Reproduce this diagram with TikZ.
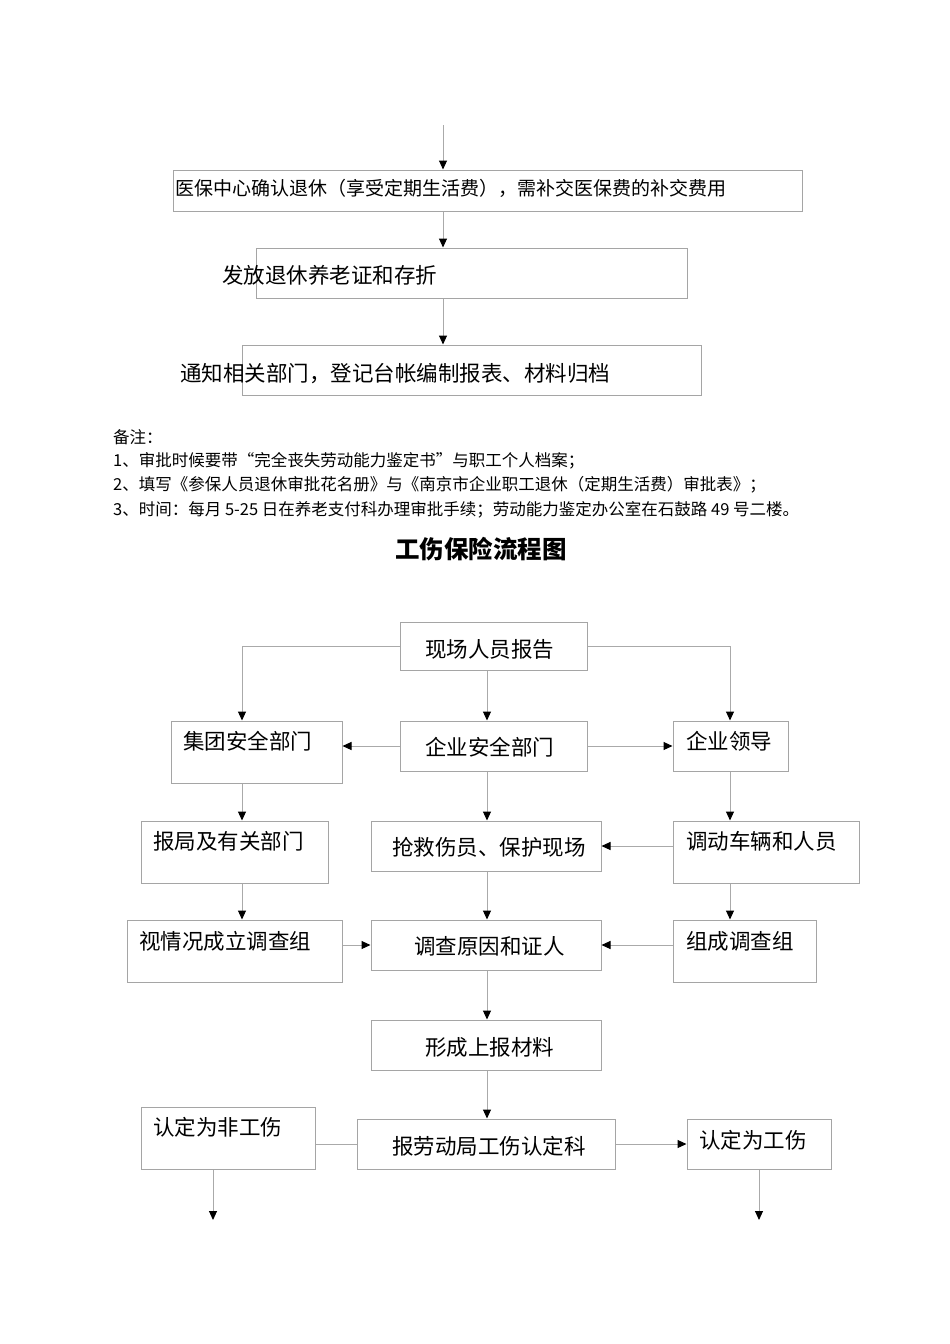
\documentclass[tikz,border=0pt]{standalone}
\usepackage{fontspec}
\setmainfont{Noto Sans CJK SC}
\usetikzlibrary{arrows.meta,calc}
\definecolor{boxgray}{RGB}{165,165,165}
\definecolor{linegray}{RGB}{170,170,170}
\tikzset{
  box/.style={draw=boxgray, line width=1pt, inner sep=0pt},
  conn/.style={draw=linegray, line width=1pt},
  arr/.style={conn, -{Triangle[length=9pt,width=8pt,color=black]}},
  txt/.style={anchor=west, inner sep=0pt, font=\fontsize{21.5}{24}\selectfont},
  txtsm/.style={anchor=west, inner sep=0pt, font=\fontsize{19}{22}\selectfont},
  note/.style={anchor=west, inner sep=0pt, font=\fontsize{16.5}{19}\selectfont},
  ttl/.style={inner sep=0pt, font=\fontsize{24.5}{28}\selectfont\bfseries}
}
\begin{document}
\begin{tikzpicture}[x=1pt,y=-1pt]
\useasboundingbox (0,0) rectangle (950,1344);
% ---------- top part ----------
\coordinate (t0) at (443,125);
\node[box, minimum width=629pt, minimum height=41pt] (b1) at (487.5,190.5) {};
\node[box, minimum width=431pt, minimum height=50pt] (b2) at (471.5,273) {};
\node[box, minimum width=459pt, minimum height=50pt] (b3) at (471.5,370) {};
\node[txtsm] (tb1) at (175,188) {医保中心确认退休（享受定期生活费），需补交医保费的补交费用};
\node[txt] (tb2) at (222,275) {发放退休养老证和存折};
\node[txt] (tb3) at (180,374) {通知相关部门，登记台帐编制报表、材料归档};
\draw[arr] (t0) -- (t0 |- b1.north);
\draw[arr] (t0 |- b1.south) -- (t0 |- b2.north);
\draw[arr] (t0 |- b2.south) -- (t0 |- b3.north);
% ---------- notes ----------
\node[note] (n0) at (113,437) {备注：};
\node[note] (n1) at (113,461) {1、审批时候要带“完全丧失劳动能力鉴定书”与职工个人档案；};
\node[note] (n2) at (113,485) {2、填写《参保人员退休审批花名册》与《南京市企业职工退休（定期生活费）审批表》；};
\node[note] (n3) at (113,510) {3、时间：每月 5-25 日在养老支付科办理审批手续；劳动能力鉴定办公室在石鼓路 49 号二楼。};
\node[ttl] (title) at (481,549) {工伤保险流程图};
% ---------- bottom flowchart ----------
\coordinate (cL) at (242,0);
\coordinate (cM) at (487,0);
\coordinate (cR) at (730,0);
\coordinate (e1) at (213,1220);
\coordinate (e2) at (759,1220);
\node[box, minimum width=187pt, minimum height=48pt] (s1) at (493.5,646) {};
\node[box, minimum width=171pt, minimum height=62pt] (s2) at (256.5,752) {};
\node[box, minimum width=187pt, minimum height=50pt] (s3) at (493.5,746) {};
\node[box, minimum width=115pt, minimum height=50pt] (s4) at (730.5,746) {};
\node[box, minimum width=187pt, minimum height=62pt] (s5) at (234.5,852) {};
\node[box, minimum width=230pt, minimum height=50pt] (s6) at (486,846) {};
\node[box, minimum width=186pt, minimum height=62pt] (s7) at (766,852) {};
\node[box, minimum width=215pt, minimum height=62pt] (s8) at (234.5,951) {};
\node[box, minimum width=230pt, minimum height=50pt] (s9) at (486,945) {};
\node[box, minimum width=143pt, minimum height=62pt] (s10) at (744.5,951) {};
\node[box, minimum width=230pt, minimum height=50pt] (s11) at (486,1045) {};
\node[box, minimum width=258pt, minimum height=50pt] (s12) at (486,1144) {};
\node[box, minimum width=174pt, minimum height=62pt] (s13) at (228,1138) {};
\node[box, minimum width=144pt, minimum height=50pt] (s14) at (759,1144) {};
\node[txt] (ts1) at (425,649) {现场人员报告};
\node[txt] (ts2) at (183,741) {集团安全部门};
\node[txt] (ts3) at (425,747) {企业安全部门};
\node[txt] (ts4) at (686,741) {企业领导};
\node[txt] (ts5) at (153,841) {报局及有关部门};
\node[txt] (ts6) at (392,847) {抢救伤员、保护现场};
\node[txt] (ts7) at (686,841) {调动车辆和人员};
\node[txt] (ts8) at (139,941) {视情况成立调查组};
\node[txt] (ts9) at (414,946) {调查原因和证人};
\node[txt] (ts10) at (686,941) {组成调查组};
\node[txt] (ts11) at (425,1047) {形成上报材料};
\node[txt] (ts12) at (392,1146) {报劳动局工伤认定科};
\node[txt] (ts13) at (153,1127) {认定为非工伤};
\node[txt] (ts14) at (699,1140) {认定为工伤};
% connectors
\draw[arr] (s1.west) -- (s1.west -| cL) -- (cL |- s2.north);
\draw[arr] (s1.east) -- (s1.east -| cR) -- (cR |- s4.north);
\draw[arr] (cM |- s1.south) -- (cM |- s3.north);
\draw[arr] (s3.west) -- (s3.west -| s2.east);
\draw[arr] (s3.east) -- (s4.west);
\draw[arr] (cL |- s2.south) -- (cL |- s5.north);
\draw[arr] (cM |- s3.south) -- (cM |- s6.north);
\draw[arr] (cR |- s4.south) -- (cR |- s7.north);
\draw[arr] (s7.west |- s6.east) -- (s6.east);
\draw[arr] (cL |- s5.south) -- (cL |- s8.north);
\draw[arr] (cM |- s6.south) -- (cM |- s9.north);
\draw[arr] (cR |- s7.south) -- (cR |- s10.north);
\draw[arr] (s8.east |- s9.west) -- (s9.west);
\draw[arr] (s10.west |- s9.east) -- (s9.east);
\draw[arr] (cM |- s9.south) -- (cM |- s11.north);
\draw[arr] (cM |- s11.south) -- (cM |- s12.north);
\draw[conn] (s12.west) -- (s12.west -| s13.east);
\draw[arr] (s12.east) -- (s14.west);
\draw[arr] (e1 |- s13.south) -- (e1);
\draw[arr] (e2 |- s14.south) -- (e2);
\end{tikzpicture}
\end{document}
